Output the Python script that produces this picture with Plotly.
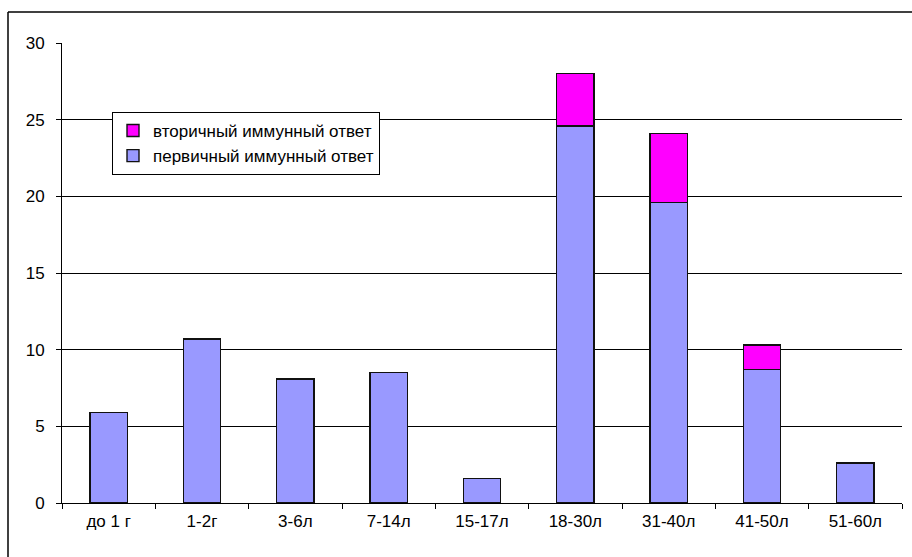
import plotly.graph_objects as go

categories = ["до 1 г", "1-2г", "3-6л", "7-14л", "15-17л", "18-30л", "31-40л", "41-50л", "51-60л"]
primary = [5.9, 10.7, 8.1, 8.5, 1.6, 24.6, 19.6, 8.7, 2.6]
secondary = [None, None, None, None, None, 3.4, 4.5, 1.6, None]
y_ticks = [0, 5, 10, 15, 20, 25, 30]

W, H = 912, 557
L, R, T, B = 62, 902, 43, 503

fig = go.Figure()
fig.add_trace(go.Bar(x=categories, y=primary, name="первичный иммунный ответ",
                     marker=dict(color="#9999FF", line=dict(color="#111111", width=1.4))))
fig.add_trace(go.Bar(x=categories, y=secondary, name="вторичный иммунный ответ",
                     marker=dict(color="#FF00FF", line=dict(color="#111111", width=1.4))))

def px(x):
    return (x - L) / (R - L)

def py(y):
    return (B - y) / (B - T)

fig.update_layout(
    width=W, height=H,
    margin=dict(l=L, r=W - R, t=T, b=H - B),
    barmode="stack", bargap=0.6,
    plot_bgcolor="white", paper_bgcolor="white",
    font=dict(family="Liberation Sans, Arial", size=17, color="black"),
    showlegend=True,
    legend=dict(x=px(112), y=py(112), xanchor="left", yanchor="top",
                bgcolor="white", bordercolor="black", borderwidth=1,
                traceorder="reversed", font=dict(size=17),
                tracegroupgap=0),
    xaxis=dict(showline=True, linecolor="black", linewidth=1,
               ticks="outside", tickson="boundaries", ticklen=5, tickcolor="black",
               showgrid=False, mirror=False, ticklabelstandoff=3),
    yaxis=dict(range=[0, 30], tickvals=y_ticks, showline=True, linecolor="black", linewidth=1,
               ticks="outside", ticklen=5, tickcolor="black", ticklabelstandoff=8,
               showgrid=True, gridcolor="black", gridwidth=1.2, zeroline=False),
    shapes=[
        dict(type="line", xref="paper", yref="paper", x0=px(8), x1=px(912), y0=py(12), y1=py(12),
             line=dict(color="black", width=1.5)),
        dict(type="line", xref="paper", yref="paper", x0=px(8), x1=px(8), y0=py(12), y1=py(557),
             line=dict(color="black", width=1.5)),
    ],
)

fig.write_html("out.html", config={"displayModeBar": False},
               post_script="document.body.style.margin='0';document.body.style.overflow='hidden';")
